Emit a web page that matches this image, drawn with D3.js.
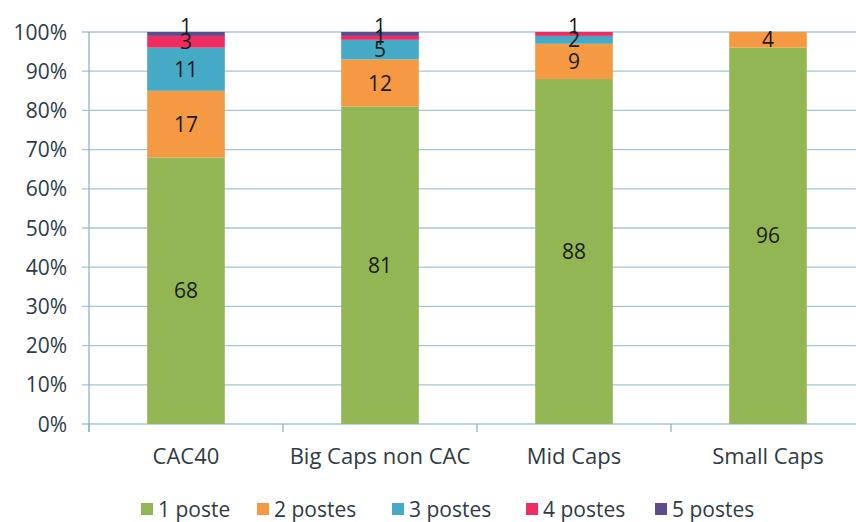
<!DOCTYPE html>
<html><head><meta charset="utf-8">
<script src="https://cdn.jsdelivr.net/npm/d3@7"></script>
<style>
body{margin:0;background:#fff;}
svg text{font-family:"Open Sans",Lato,sans-serif;fill:#2f3b44;}
</style></head><body>
<svg id="c" width="856" height="522"></svg>
<script>
const categories = ["CAC40","Big Caps non CAC","Mid Caps","Small Caps"];
const seriesNames = ["1 poste","2 postes","3 postes","4 postes","5 postes"];
const poste1 = [68,81,88,96];
const poste2 = [17,12,9,4];
const poste3 = [11,5,2,0];
const poste4 = [3,1,1,0];
const poste5 = [1,1,0,0];
const yTicks = [0,10,20,30,40,50,60,70,80,90,100];
const colors = ["#93b655","#f59a42","#45aac6","#ee2e62","#5d4b8c"];

(function(){
const series = [poste1,poste2,poste3,poste4,poste5];
const rows = categories.map((c,i)=>{const o={cat:c}; seriesNames.forEach((s,j)=>o[s]=series[j][i]); return o;});
const stacked = d3.stack().keys(seriesNames)(rows);

const svg = d3.select("#c");
const mL=89, mR=865, mT=32, mB=424;
const x = d3.scaleBand().domain(categories).range([mL,mR]).paddingInner(0.6).paddingOuter(0.3);
const y = d3.scaleLinear().domain([0,100]).range([mB,mT]);

svg.append("g").selectAll("line").data(yTicks).join("line")
  .attr("x1",82).attr("x2",856).attr("y1",d=>y(d)).attr("y2",d=>y(d))
  .attr("stroke","#a3c6d8").attr("stroke-width",1.3);
svg.append("line").attr("x1",mL).attr("x2",mL).attr("y1",mT).attr("y2",mB+8)
  .attr("stroke","#8fb3c6").attr("stroke-width",1.3);
const band = (mR-mL)/categories.length;
svg.append("g").selectAll("line").data(d3.range(categories.length+1)).join("line")
  .attr("x1",d=>mL+d*band).attr("x2",d=>mL+d*band).attr("y1",mB).attr("y2",mB+8)
  .attr("stroke","#8fb3c6").attr("stroke-width",1.3);
svg.append("g").selectAll("text").data(yTicks).join("text")
  .attr("x",67).attr("y",d=>y(d)).attr("dy","0.36em").attr("text-anchor","end")
  .attr("font-size",21).text(d=>d+"%");

const g = svg.append("g");
stacked.forEach((s,j)=>{
  g.append("g").selectAll("rect").data(s).join("rect")
   .attr("x",d=>x(d.data.cat)).attr("width",x.bandwidth())
   .attr("y",d=>y(d[1])).attr("height",d=>y(d[0])-y(d[1]))
   .attr("fill",colors[j]);
});
stacked.forEach((s,j)=>{
  g.append("g").selectAll("text").data(s.filter(d=>d[1]-d[0]>0)).join("text")
   .attr("x",d=>x(d.data.cat)+x.bandwidth()/2)
   .attr("y",d=>y((d[0]+d[1])/2) + ((d[1]>=100 && d[1]-d[0]<=1) ? -8 : 0))
   .attr("dy","0.36em").attr("text-anchor","middle")
   .attr("font-size",21).style("fill","#1a1a1a").text(d=>d[1]-d[0]);
});
svg.append("g").selectAll("text").data(categories).join("text")
  .attr("x",d=>x(d)+x.bandwidth()/2).attr("y",456).attr("dy","0.36em")
  .attr("text-anchor","middle").attr("font-size",22).text(d=>d);

const legX = [141,257,392,526,655];
const leg = svg.append("g");
seriesNames.forEach((s,j)=>{
  leg.append("rect").attr("x",legX[j]).attr("y",503).attr("width",12).attr("height",12).attr("fill",colors[j]);
  leg.append("text").attr("x",legX[j]+17).attr("y",509).attr("dy","0.36em").attr("font-size",21).text(s);
});
})();
</script></body></html>
